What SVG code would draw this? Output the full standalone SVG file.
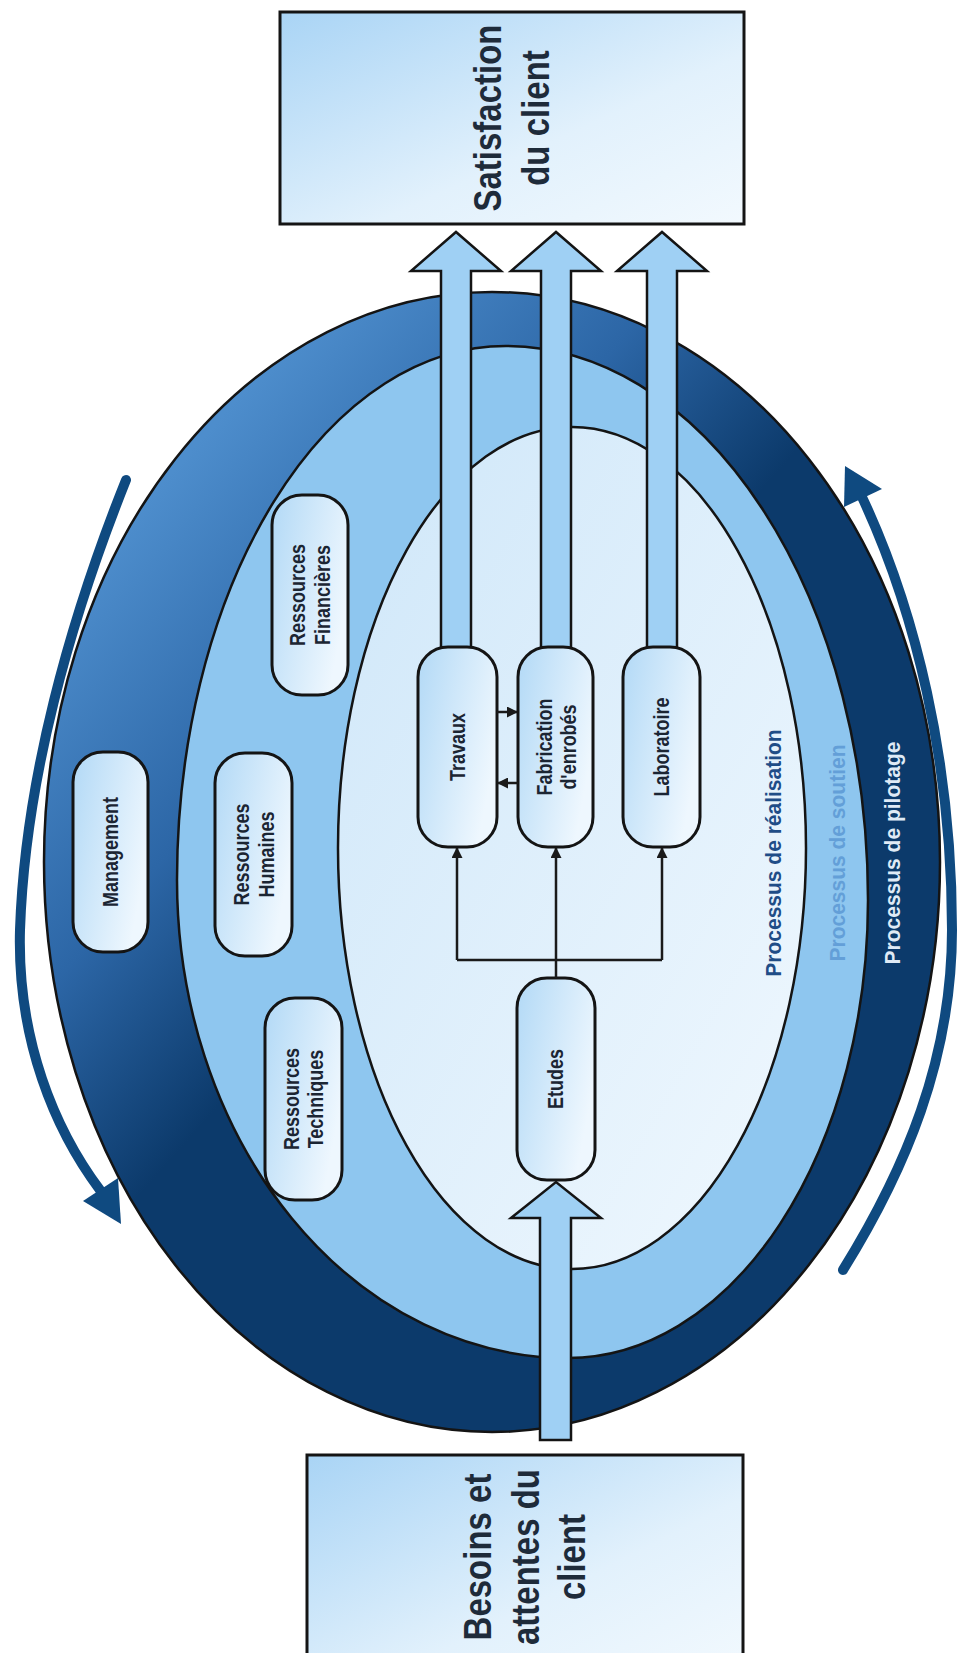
<svg xmlns="http://www.w3.org/2000/svg" width="957" height="1653" viewBox="0 0 957 1653">
<defs>
<linearGradient id="gOuter" gradientUnits="userSpaceOnUse" x1="360" y1="260" x2="700" y2="560">
<stop offset="0" stop-color="#4d8dcc"/><stop offset="0.55" stop-color="#2c66a6"/><stop offset="1" stop-color="#0c3a6b"/>
</linearGradient>
<linearGradient id="gInner" x1="0" y1="0" x2="1" y2="1">
<stop offset="0" stop-color="#cfe7f9"/><stop offset="1" stop-color="#f0f8fe"/>
</linearGradient>
<linearGradient id="gPill" x1="0" y1="0" x2="1" y2="0.5">
<stop offset="0" stop-color="#b2d9f6"/><stop offset="1" stop-color="#eef7fe"/>
</linearGradient>
<linearGradient id="gBox" x1="0" y1="0" x2="1" y2="1">
<stop offset="0" stop-color="#a9d4f5"/><stop offset="0.6" stop-color="#e2f1fc"/><stop offset="1" stop-color="#f2f9fe"/>
</linearGradient>
<marker id="ah" markerWidth="11" markerHeight="11" refX="10" refY="5.5" orient="auto" markerUnits="userSpaceOnUse">
<path d="M0,0 L11,5.5 L0,11 z" fill="#1a1a1a"/>
</marker>
<style>
.ring{stroke:#141414;stroke-width:2.5}
.pill{fill:url(#gPill);stroke:#141414;stroke-width:3}
.box{fill:url(#gBox);stroke:#141414;stroke-width:3}
.blk{fill:#9fd0f4;stroke:#141414;stroke-width:2.5;stroke-linejoin:miter}
.pt{font-family:"Liberation Sans",Arial,sans-serif;font-weight:bold;font-size:18px;fill:#1b2533;text-anchor:middle}
.bt{font-family:"Liberation Sans",Arial,sans-serif;font-weight:bold;font-size:33px;fill:#1e2b3a;text-anchor:middle}
.lt{font-family:"Liberation Sans",Arial,sans-serif;font-weight:bold;font-size:21px;text-anchor:middle}
.con{fill:none;stroke:#1a1a1a;stroke-width:2.5}
.cyc{fill:none;stroke:#0f4a80;stroke-width:10;stroke-linecap:round}
</style>
</defs>
<rect width="957" height="1653" fill="#ffffff"/>

<g id="rings">
<ellipse id="pilotage" class="ring" cx="492" cy="862" rx="448" ry="570" fill="url(#gOuter)"/>
<path id="soutien" class="ring" fill="#8ec6ef" d="M506,346 A362,554 0 0 1 868,900 A300,458 0 0 1 568,1358 A391,478 0 0 1 177,880 A329,534 0 0 1 506,346 Z"/>
<ellipse id="realisation" class="ring" cx="572" cy="848" rx="234" ry="421" fill="url(#gInner)"/>
</g>

<g id="ring-labels">
<text class="lt" fill="#1f4d87" transform="translate(781,853) rotate(-90) scale(1,1.08)">Processus de réalisation</text>
<text class="lt" fill="#639fd8" transform="translate(845,853) rotate(-90) scale(1,1.08)">Processus de soutien</text>
<text class="lt" fill="#dfeaf6" transform="translate(900,853) rotate(-90) scale(1,1.08)">Processus de pilotage</text>
</g>

<g id="cycle-arrows">
<path class="cyc" d="M126,480 C70,620 25,780 20,930 C17,1040 55,1130 100,1190"/>
<polygon points="121,1224 83,1201 118,1178" fill="#0f4a80"/>
<path class="cyc" d="M843,1270 C905,1170 952,1060 952,930 C952,760 915,610 862,497"/>
<polygon points="845,466 844,507 882,489" fill="#0f4a80"/>
</g>

<g id="box-satisfaction">
<rect class="box" x="280" y="12" width="464" height="212"/>
<text class="bt" transform="translate(501,118) rotate(-90) scale(1,1.2)">Satisfaction</text>
<text class="bt" transform="translate(549,118) rotate(-90) scale(1,1.2)">du client</text>
</g>

<g id="box-besoins">
<rect class="box" x="307" y="1455" width="436" height="220"/>
<text class="bt" transform="translate(491,1557) rotate(-90) scale(1,1.2)">Besoins et</text>
<text class="bt" transform="translate(539,1557) rotate(-90) scale(1,1.2)">attentes du</text>
<text class="bt" transform="translate(585,1557) rotate(-90) scale(1,1.2)">client</text>
</g>

<g id="flow-arrows">
<path class="blk" d="M441,650 L441,271 L411,271 L456,232 L501,271 L471,271 L471,650 Z"/>
<path class="blk" d="M541,650 L541,271 L511,271 L556,232 L601,271 L571,271 L571,650 Z"/>
<path class="blk" d="M647,650 L647,271 L617,271 L662,232 L707,271 L677,271 L677,650 Z"/>
<path class="blk" d="M540,1440 L540,1218 L511,1218 L556,1182 L601,1218 L571,1218 L571,1440 Z"/>
</g>

<g id="node-management"><rect class="pill" x="73" y="752" width="75" height="200" rx="30"/>
<text class="pt" transform="translate(118,852) rotate(-90) scale(1,1.18)">Management</text></g>
<g id="node-rh"><rect class="pill" x="215" y="753" width="77" height="203" rx="30"/>
<text class="pt" transform="translate(249,854.5) rotate(-90) scale(1,1.18)">Ressources</text>
<text class="pt" transform="translate(273.5,854.5) rotate(-90) scale(1,1.18)">Humaines</text></g>
<g id="node-rf"><rect class="pill" x="272" y="495" width="76" height="200" rx="30"/>
<text class="pt" transform="translate(305,595) rotate(-90) scale(1,1.18)">Ressources</text>
<text class="pt" transform="translate(330,595) rotate(-90) scale(1,1.18)">Financières</text></g>
<g id="node-rt"><rect class="pill" x="265" y="998" width="77" height="202" rx="30"/>
<text class="pt" transform="translate(298.5,1099) rotate(-90) scale(1,1.18)">Ressources</text>
<text class="pt" transform="translate(322.5,1099) rotate(-90) scale(1,1.18)">Techniques</text></g>
<g id="node-travaux"><rect class="pill" x="418" y="647" width="79" height="200" rx="30"/>
<text class="pt" transform="translate(465,747) rotate(-90) scale(1,1.18)">Travaux</text></g>
<g id="node-fabrication"><rect class="pill" x="518" y="647" width="75" height="200" rx="30"/>
<text class="pt" transform="translate(552,747) rotate(-90) scale(1,1.18)">Fabrication</text>
<text class="pt" transform="translate(576,747) rotate(-90) scale(1,1.18)">d'enrobés</text></g>
<g id="node-laboratoire"><rect class="pill" x="623" y="647" width="77" height="200" rx="30"/>
<text class="pt" transform="translate(669,747) rotate(-90) scale(1,1.18)">Laboratoire</text></g>
<g id="node-etudes"><rect class="pill" x="517" y="978" width="78" height="202" rx="30"/>
<text class="pt" transform="translate(563,1079) rotate(-90) scale(1,1.18)">Etudes</text></g>

<g id="connectors">
<path class="con" d="M556,978 V960"/>
<path class="con" d="M457,960 H662"/>
<path class="con" d="M457,960 V848" marker-end="url(#ah)"/>
<path class="con" d="M556,960 V848" marker-end="url(#ah)"/>
<path class="con" d="M662,960 V848" marker-end="url(#ah)"/>
<path class="con" d="M497,712 H517" marker-end="url(#ah)"/>
<path class="con" d="M518,783 H498" marker-end="url(#ah)"/>
</g>
</svg>
